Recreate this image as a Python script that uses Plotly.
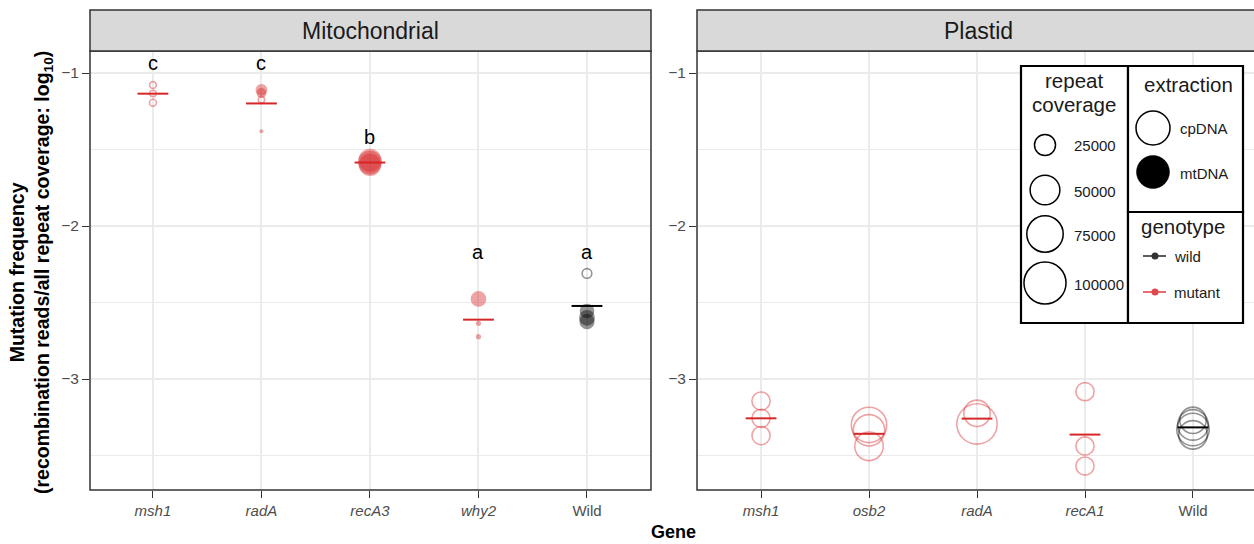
import numpy as np
import plotly.graph_objects as go

W, H = 1254, 544

# ---------------- data ----------------
mito_genes = ["msh1", "radA", "recA3", "why2", "Wild"]
plastid_genes = ["msh1", "osb2", "radA", "recA1", "Wild"]

mito_gene = ["msh1", "msh1", "msh1",
             "radA", "radA", "radA", "radA",
             "recA3", "recA3", "recA3",
             "why2", "why2", "why2",
             "Wild", "Wild", "Wild", "Wild"]
mito_freq = [-1.078, -1.133, -1.194,
             -1.11, -1.13, -1.175, -1.38,
             -1.57, -1.585, -1.60,
             -2.477, -2.636, -2.723,
             -2.31, -2.555, -2.60, -2.625]
mito_cov = [3800, 3500, 4000,
            8000, 5500, 3500, 900,
            30000, 32000, 28000,
            14000, 1500, 1500,
            7000, 12000, 14000, 13000]
mito_extraction = ["cpDNA", "cpDNA", "cpDNA",
                   "mtDNA", "mtDNA", "cpDNA", "mtDNA",
                   "mtDNA", "mtDNA", "mtDNA",
                   "mtDNA", "mtDNA", "mtDNA",
                   "cpDNA", "mtDNA", "mtDNA", "mtDNA"]

plastid_gene = ["msh1", "msh1", "msh1",
                "osb2", "osb2", "osb2",
                "radA", "radA",
                "recA1", "recA1", "recA1",
                "Wild", "Wild", "Wild", "Wild"]
plastid_freq = [-3.144, -3.257, -3.370,
                -3.30, -3.335, -3.44,
                -3.224, -3.294,
                -3.083, -3.438, -3.569,
                -3.27, -3.30, -3.33, -3.365]
plastid_cov = [22000, 22000, 22000,
               77000, 61000, 51000,
               44000, 99000,
               22000, 22000, 22000,
               44000, 58000, 65000, 51000]
plastid_extraction = ["cpDNA"] * 15

mito_letters = ["c", "c", "b", "a", "a"]
mito_letter_y = [-0.935, -0.935, -1.418, -2.17, -2.17]

legend_cov = [25000, 50000, 75000, 100000]
y_ticks = [-1, -2, -3]
y_ticktext = ["\u22121", "\u22122", "\u22123"]

# ---------------- styles ----------------
RED = "rgba(214,39,40,0.6)"
RED_SOLID = "#D62728"
BLK = "rgba(0,0,0,0.6)"
BLK_SOLID = "#000000"
FONT = "Liberation Sans, Arial, sans-serif"


def size_px(cov):
    return 0.133 * np.sqrt(np.asarray(cov, dtype=float))


def px_x(p):
    return p / W


def px_y(p):
    return 1 - p / H


fig = go.Figure()


def add_panel(genes, gene, freq, cov, extraction, xa, ya):
    gene = np.asarray(gene)
    freq = np.asarray(freq)
    cov = np.asarray(cov)
    ext = np.asarray(extraction)
    xpos = np.array([genes.index(g) for g in gene])
    wild = gene == "Wild"
    for is_wild in (False, True):
        col = BLK if is_wild else RED
        for e in ("cpDNA", "mtDNA"):
            m = (wild == is_wild) & (ext == e)
            if not m.any():
                continue
            s = size_px(cov[m])
            if e == "cpDNA":
                marker = dict(symbol="circle-open", size=s - 1.5, color=col,
                              line=dict(width=1.6, color=col))
            else:
                marker = dict(symbol="circle", size=s, color=col,
                              line=dict(width=0))
            fig.add_trace(go.Scatter(x=xpos[m], y=freq[m], mode="markers",
                                     marker=marker, xaxis=xa, yaxis=ya,
                                     showlegend=False, hoverinfo="skip"))
    # mean bars
    for i, g in enumerate(genes):
        m = gene == g
        mean = freq[m].mean()
        col = BLK_SOLID if g == "Wild" else RED_SOLID
        fig.add_trace(go.Scatter(x=[i], y=[mean], mode="markers",
                                 marker=dict(symbol="line-ew", size=22,
                                             line=dict(width=2, color=col)),
                                 xaxis=xa, yaxis=ya, showlegend=False,
                                 hoverinfo="skip"))


add_panel(mito_genes, mito_gene, mito_freq, mito_cov, mito_extraction, "x", "y")
add_panel(plastid_genes, plastid_gene, plastid_freq, plastid_cov,
          plastid_extraction, "x2", "y2")


def tick_text(genes):
    return [g if g == "Wild" else "<i>%s</i>" % g for g in genes]


ydom = [px_y(490), px_y(51)]
yrange = [-3.7255, -0.856]
common_x = dict(ticks="outside", ticklen=7, tickwidth=1.3, tickcolor="#333333",
                showgrid=True, gridcolor="#EBEBEB", gridwidth=1.6,
                zeroline=False, showline=False,
                tickfont=dict(size=15, color="#4D4D4D", family=FONT),
                tickvals=list(range(5)))
common_y = dict(range=yrange, domain=ydom, tickvals=y_ticks, ticktext=y_ticktext,
                ticks="outside", ticklen=7, tickwidth=1.3, tickcolor="#333333",
                showgrid=True, gridcolor="#EBEBEB", gridwidth=1.6,
                zeroline=False, showline=False,
                tickfont=dict(size=15.5, color="#4D4D4D", family=FONT),
                minor=dict(tickvals=[-1.5, -2.5, -3.5], showgrid=True,
                           gridcolor="#EBEBEB", gridwidth=0.9, ticks=""))

fig.update_layout(
    width=W, height=H,
    margin=dict(l=0, r=0, t=0, b=0),
    paper_bgcolor="white", plot_bgcolor="white",
    font=dict(family=FONT, color="black"),
    showlegend=False,
    xaxis=dict(domain=[px_x(90), px_x(651)], range=[-0.58, 4.59],
               ticktext=tick_text(mito_genes), anchor="y", **common_x),
    xaxis2=dict(domain=[px_x(697), 1.0], range=[-0.593, 4.565],
                ticktext=tick_text(plastid_genes), anchor="y2", **common_x),
    yaxis=dict(anchor="x", **common_y),
    yaxis2=dict(anchor="x2", **common_y),
)

shapes = []
annos = []

# panel frames + strips
for x0, x1, cx, label in ((90, 651, 370.5, "Mitochondrial"),
                          (697, 1262, 978, "Plastid")):
    shapes.append(dict(type="rect", xref="paper", yref="paper",
                       x0=px_x(x0), x1=px_x(x1), y0=px_y(490), y1=px_y(51),
                       line=dict(color="#333333", width=1.5), layer="above"))
    shapes.append(dict(type="rect", xref="paper", yref="paper",
                       x0=px_x(x0), x1=px_x(x1), y0=px_y(51), y1=px_y(10),
                       fillcolor="#D9D9D9", line=dict(color="#333333", width=1.5),
                       layer="above"))
    annos.append(dict(xref="paper", yref="paper", x=px_x(cx), y=px_y(31),
                      text=label, showarrow=False, xanchor="center",
                      yanchor="middle", font=dict(size=23, color="#1A1A1A")))

# significance letters
for i, (lt, ly) in enumerate(zip(mito_letters, mito_letter_y)):
    annos.append(dict(xref="x", yref="y", x=i, y=ly, text=lt, showarrow=False,
                      xanchor="center", yanchor="middle",
                      font=dict(size=20, color="black")))

# axis titles
annos.append(dict(xref="paper", yref="paper", x=px_x(673), y=px_y(532),
                  text="<b>Gene</b>", showarrow=False, xanchor="center",
                  yanchor="middle", font=dict(size=18)))
annos.append(dict(xref="paper", yref="paper", x=px_x(31), y=px_y(273),
                  text="<b>Mutation frequency</b><br><b>(recombination reads/all repeat coverage: log<sub>10</sub>)</b>",
                  showarrow=False, textangle=-90, xanchor="center",
                  yanchor="middle", font=dict(size=19.5)))

# custom legend boxes
for (x0, x1, y0, y1) in ((1021, 1128, 66, 323), (1128, 1243, 66, 212),
                         (1128, 1243, 212, 323)):
    shapes.append(dict(type="rect", xref="paper", yref="paper",
                       x0=px_x(x0), x1=px_x(x1), y0=px_y(y1), y1=px_y(y0),
                       fillcolor="white", line=dict(color="black", width=2.2),
                       layer="above"))


def circle(cx, cy, d, fill=None, width=1.5):
    r = d / 2
    shapes.append(dict(type="circle", xref="paper", yref="paper",
                       x0=px_x(cx - r), x1=px_x(cx + r),
                       y0=px_y(cy + r), y1=px_y(cy - r),
                       fillcolor=fill if fill else "rgba(0,0,0,0)",
                       line=dict(color="black", width=width), layer="above"))


def text(x, y, s, size, anchor="left", color="#1A1A1A"):
    annos.append(dict(xref="paper", yref="paper", x=px_x(x), y=px_y(y), text=s,
                      showarrow=False, xanchor=anchor, yanchor="middle",
                      font=dict(size=size, color=color)))


text(1074, 80, "repeat", 20.5, "center")
text(1074, 105, "coverage", 20.5, "center")
for cov, cy in zip(legend_cov, (145, 190, 234, 283)):
    circle(1045, cy, float(size_px(cov)))
    text(1072, cy + 1, str(cov), 15)

text(1188, 84, "extraction", 20.5, "center")
circle(1153, 128, 34)
circle(1153, 172, 33, fill="black", width=0.5)
text(1178, 129, "cpDNA", 15)
text(1178, 173, "mtDNA", 15)

text(1183, 227, "genotype", 20.5, "center")
for cy, col, lab in ((256, "#333333", "wild"), (292, "#E0474C", "mutant")):
    shapes.append(dict(type="line", xref="paper", yref="paper",
                       x0=px_x(1143), x1=px_x(1166), y0=px_y(cy), y1=px_y(cy),
                       line=dict(color=col, width=1.6), layer="above"))
    shapes.append(dict(type="circle", xref="paper", yref="paper",
                       x0=px_x(1151.5), x1=px_x(1158.5), y0=px_y(cy + 3.5),
                       y1=px_y(cy - 3.5), fillcolor=col,
                       line=dict(color=col, width=0), layer="above"))
    text(1172, cy, lab, 15)

fig.update_layout(shapes=shapes, annotations=annos)
fig.write_html("out.html")
